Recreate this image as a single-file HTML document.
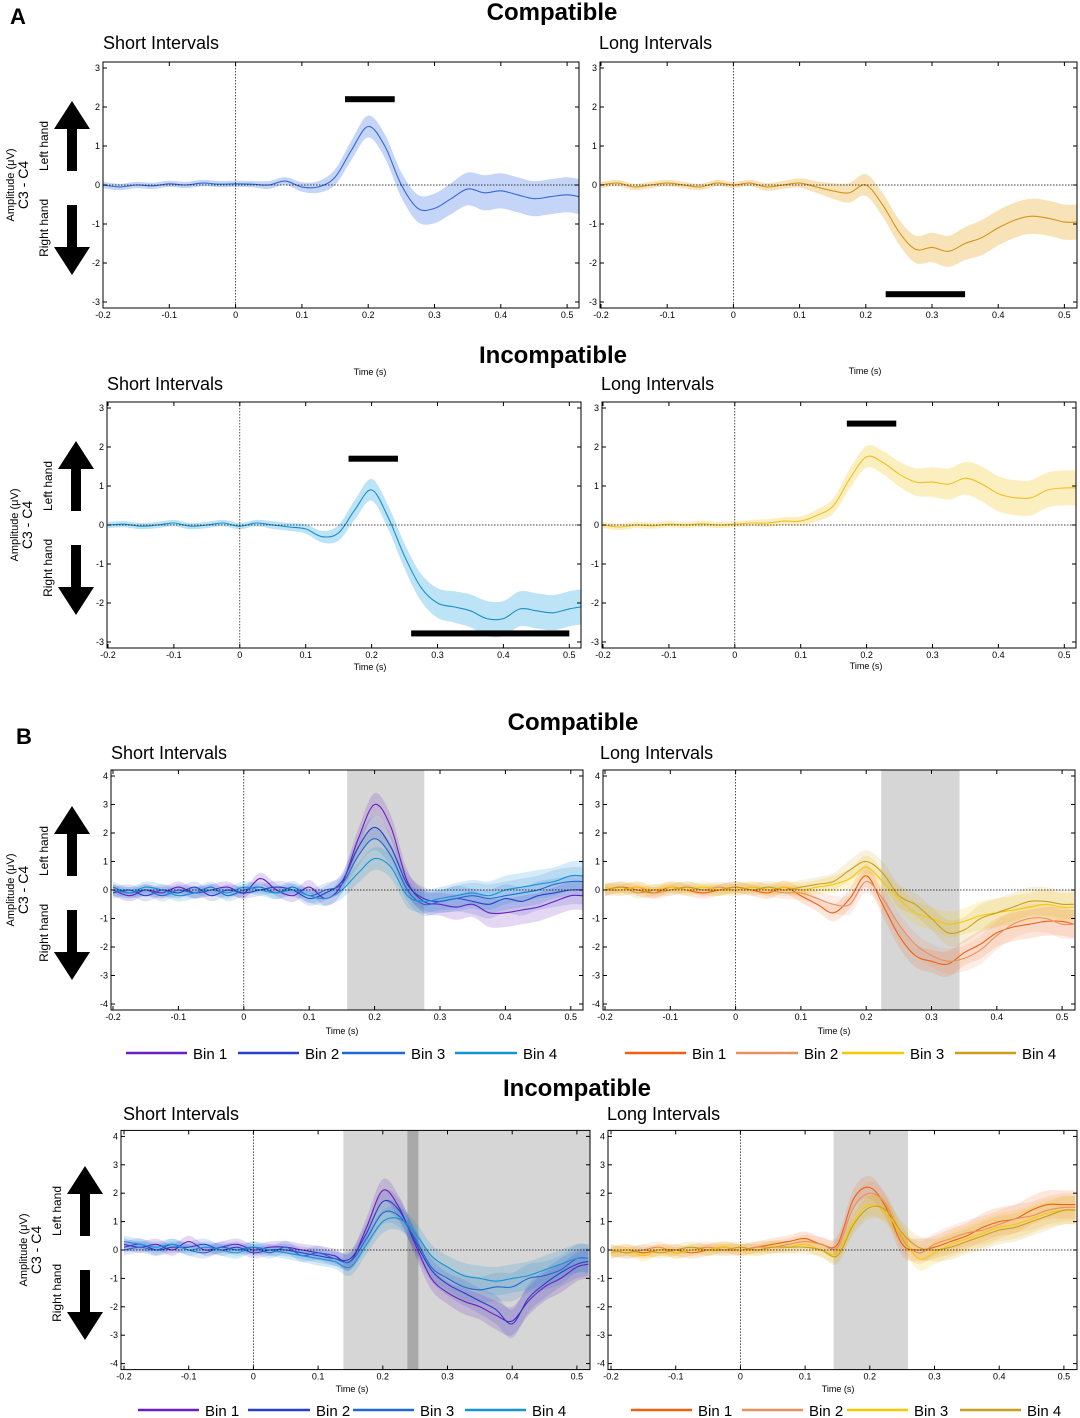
<!DOCTYPE html>
<html><head><meta charset="utf-8"><style>
body{margin:0;background:#fff}
svg{display:block;font-family:"Liberation Sans",sans-serif}
</style></head><body>
<svg id="fig" width="1080" height="1418" viewBox="0 0 1080 1418" xmlns="http://www.w3.org/2000/svg">
<g fill="#000">
<text x="10" y="24" font-size="22" font-weight="bold">A</text>
<text x="552" y="20" font-size="24" font-weight="bold" text-anchor="middle">Compatible</text>
<text x="103" y="49" font-size="18">Short Intervals</text>
<text x="599" y="49" font-size="18">Long Intervals</text>
<text x="553" y="363" font-size="24" font-weight="bold" text-anchor="middle">Incompatible</text>
<text x="107" y="390" font-size="18">Short Intervals</text>
<text x="601" y="390" font-size="18">Long Intervals</text>
<text x="16" y="744" font-size="22" font-weight="bold">B</text>
<text x="573" y="730" font-size="24" font-weight="bold" text-anchor="middle">Compatible</text>
<text x="111" y="759" font-size="18">Short Intervals</text>
<text x="600" y="759" font-size="18">Long Intervals</text>
<text x="577" y="1096" font-size="24" font-weight="bold" text-anchor="middle">Incompatible</text>
<text x="123" y="1120" font-size="18">Short Intervals</text>
<text x="607" y="1120" font-size="18">Long Intervals</text>
</g>
</svg>
<script>
const times=[-0.2,-0.175,-0.15,-0.125,-0.1,-0.075,-0.05,-0.025,0,0.025,0.05,0.075,0.1,0.125,0.15,0.175,0.2,0.225,0.25,0.275,0.3,0.325,0.35,0.375,0.4,0.425,0.45,0.475,0.5,0.518];
const xTicks=[-0.2,-0.1,0,0.1,0.2,0.3,0.4,0.5];
const xTickLabels=["-0.2","-0.1","0","0.1","0.2","0.3","0.4","0.5"];
const yTicksA=[-3,-2,-1,0,1,2,3];
const yTicksB=[-4,-3,-2,-1,0,1,2,3,4];
const binLabels=["Bin 1","Bin 2","Bin 3","Bin 4"];
// Panel A series
const aCompShort=[0,-0.05,0,-0.02,0.03,0,0.05,0.02,0.03,0.02,0,0.1,-0.05,-0.05,0.2,0.9,1.5,1.0,0,-0.6,-0.6,-0.35,-0.1,-0.2,-0.15,-0.25,-0.35,-0.3,-0.25,-0.3];
const aCompLong=[0,0.05,-0.05,0,0.05,0,-0.05,0.05,0,0.05,-0.05,0,0.05,-0.05,-0.15,-0.2,0,-0.5,-1.2,-1.65,-1.6,-1.7,-1.5,-1.35,-1.1,-0.9,-0.8,-0.85,-0.95,-0.95];
const aIncShort=[0,0.02,-0.03,0,0.05,-0.03,0,0.05,-0.03,0.05,0,-0.05,-0.1,-0.3,-0.2,0.4,0.9,0.2,-0.8,-1.6,-2.0,-2.1,-2.2,-2.4,-2.4,-2.15,-2.2,-2.25,-2.15,-2.1];
const aIncLong=[0,-0.05,0,-0.02,0.02,0,0.03,0,0.02,0.05,0.05,0.1,0.1,0.25,0.5,1.2,1.75,1.6,1.3,1.1,1.1,1.05,1.2,1.05,0.8,0.7,0.7,0.9,0.95,0.95];
const aBand=[0.08,0.08,0.08,0.08,0.08,0.08,0.08,0.08,0.08,0.08,0.1,0.1,0.12,0.15,0.2,0.25,0.28,0.3,0.32,0.35,0.38,0.4,0.42,0.45,0.45,0.45,0.45,0.45,0.45,0.45];
// Panel B series
const bCompShort1=[0,-0.2,0,-0.1,0.1,-0.1,0,0.1,-0.1,0.4,0,-0.2,0.1,-0.3,0.2,1.8,3.0,2.2,0.3,-0.4,-0.5,-0.6,-0.5,-0.8,-0.8,-0.7,-0.6,-0.4,-0.2,-0.2];
const bCompShort2=[-0.1,0,-0.2,0,-0.1,0.1,-0.2,0,-0.1,0,0.1,0,-0.3,-0.1,0.3,1.5,2.2,1.5,0.2,-0.3,-0.4,-0.3,-0.4,-0.5,-0.3,-0.4,-0.2,-0.1,0,0];
const bCompShort3=[0.1,-0.1,0,-0.2,0,-0.1,0.1,-0.2,0,0.1,-0.1,0.1,-0.2,0,0.2,1.2,1.8,1.2,0,-0.5,-0.4,-0.3,-0.2,-0.3,-0.2,-0.1,0,0.2,0.3,0.3];
const bCompShort4=[0,-0.1,0.1,0,-0.2,-0.1,0,-0.1,0.1,0,-0.1,0,-0.2,-0.3,0,0.6,1.1,0.8,-0.2,-0.4,-0.3,-0.2,-0.1,-0.2,0,0.1,0.2,0.3,0.5,0.5];
const bCompLong1=[0,0.1,0,-0.1,0.1,0,-0.1,0,0.1,0,-0.1,0.1,-0.2,-0.5,-0.8,-0.3,0.5,-0.5,-1.6,-2.3,-2.5,-2.6,-2.2,-1.9,-1.5,-1.3,-1.2,-1.1,-1.1,-1.2];
const bCompLong2=[0,0,0.1,-0.1,0,0.1,0,0.1,0,0.1,0,-0.1,-0.1,-0.3,-0.5,-0.5,0.3,-0.3,-1.2,-1.9,-2.3,-2.5,-2.4,-2.1,-1.6,-1.2,-1.0,-1.0,-1.2,-1.2];
const bCompLong3=[0.1,0,0.1,0,0.1,0,0.1,0,0,0.1,0,0.1,0,0.1,0.2,0.4,0.8,0.3,-0.3,-0.8,-1.0,-1.2,-1.1,-0.9,-0.8,-0.7,-0.6,-0.5,-0.6,-0.6];
const bCompLong4=[0,0.1,-0.1,0,0,0.1,0,0,0.1,0,0.1,0,0.1,0.2,0.3,0.7,1.0,0.6,-0.2,-0.5,-1.0,-1.5,-1.4,-1.0,-0.8,-0.6,-0.4,-0.4,-0.5,-0.5];
const bIncShort1=[0.2,0.1,0.2,0,0.3,0,0.1,0.2,0,0.1,0.1,0,-0.1,-0.2,-0.4,0.8,2.1,1.5,0.2,-1.0,-1.5,-1.8,-2.0,-2.3,-2.5,-1.8,-1.3,-1.0,-0.6,-0.5];
const bIncShort2=[0.1,0.2,0,0.1,0.1,0.2,0,0.1,-0.1,0,0,-0.1,-0.2,-0.3,-0.3,0.6,1.7,1.4,0.3,-0.7,-1.2,-1.5,-1.8,-2.1,-2.6,-1.7,-1.2,-0.8,-0.5,-0.4];
const bIncShort3=[0,0.1,0,0.2,0,-0.1,0.1,0,0.1,-0.1,0.1,-0.2,-0.1,-0.3,-0.4,0.4,1.3,1.2,0.4,-0.6,-1.0,-1.3,-1.4,-1.3,-1.3,-1.0,-0.9,-0.7,-0.3,-0.3];
const bIncShort4=[0.3,0.2,0.1,0.2,0,0.1,0,-0.1,0.1,0,-0.1,-0.2,-0.3,-0.4,-0.6,0.2,1.0,1.1,0.6,-0.2,-0.6,-0.9,-1.0,-1.1,-1.0,-0.9,-0.7,-0.5,-0.3,-0.3];
const bIncLong1=[-0.1,0,-0.1,0,0,-0.1,0,0.1,0,0.1,0.2,0.3,0.4,0.2,0.2,1.8,2.2,1.5,0.2,0,0.1,0.3,0.5,0.8,1.0,1.1,1.4,1.6,1.6,1.6];
const bIncLong2=[0,-0.1,0,0.1,-0.1,0,0.1,0,0,0.1,0.1,0.2,0.3,0.2,0.1,1.5,2.0,1.6,0.4,-0.1,0.2,0.4,0.6,0.7,0.9,1.1,1.2,1.4,1.5,1.5];
const bIncLong3=[-0.1,0,-0.2,0,-0.1,0,0,0.1,0,0,0.1,0.1,0.2,0,-0.1,1.0,1.6,1.3,0.5,-0.3,-0.1,0.2,0.4,0.6,0.8,0.9,1.1,1.3,1.4,1.4];
const bIncLong4=[0,-0.1,0,-0.1,0,0.1,0,0,0.1,0,0.1,0.1,0.1,0,-0.2,0.9,1.5,1.4,0.6,0.1,0,0.1,0.3,0.5,0.7,0.8,1.0,1.2,1.4,1.4];
const bBand=[0.2,0.2,0.2,0.2,0.2,0.2,0.2,0.2,0.2,0.2,0.22,0.22,0.25,0.25,0.3,0.35,0.4,0.4,0.4,0.4,0.4,0.45,0.45,0.5,0.5,0.5,0.5,0.5,0.5,0.5];
// significance bars [tStart,tEnd,value]
const sigCompShort=[[0.165,0.24,2.2]];
const sigCompLong=[[0.23,0.35,-2.8]];
const sigIncShort=[[0.165,0.24,1.7],[0.26,0.5,-2.78]];
const sigIncLong=[[0.17,0.245,2.6]];
// shaded windows [tStart,tEnd]
const shadeCompShort=[[0.158,0.276]];
const shadeCompLong=[[0.223,0.343]];
const shadeIncShort=[[0.139,0.52]];
const shadeIncShortDark=[[0.238,0.255]];
const shadeIncLong=[[0.144,0.259]];

const NS="http://www.w3.org/2000/svg";
const svg=document.getElementById('fig');
function mk(tag,attrs,parent){const e=document.createElementNS(NS,tag);for(const k in attrs)e.setAttribute(k,attrs[k]);(parent||svg).appendChild(e);return e;}
function smooth(pts){let d="M"+pts[0][0].toFixed(1)+","+pts[0][1].toFixed(1);for(let i=0;i<pts.length-1;i++){const p0=pts[i-1]||pts[i],p1=pts[i],p2=pts[i+1],p3=pts[i+2]||p2;const c1=[p1[0]+(p2[0]-p0[0])/6,p1[1]+(p2[1]-p0[1])/6],c2=[p2[0]-(p3[0]-p1[0])/6,p2[1]-(p3[1]-p1[1])/6];d+="C"+c1[0].toFixed(1)+","+c1[1].toFixed(1)+" "+c2[0].toFixed(1)+","+c2[1].toFixed(1)+" "+p2[0].toFixed(1)+","+p2[1].toFixed(1);}return d;}
function lineD(pts){return smooth(pts);}

function panel(cfg){
  const g=mk('g',{});
  
  
  const X=t=>Math.min(cfg.x0+(t+0.2)*cfg.sx,cfg.right), Y=v=>cfg.y0-v*cfg.sy;
  const top=Y(cfg.ymax)-6, bot=Y(-cfg.ymax)+6;
  (cfg.shades||[]).forEach(s=>{const r=mk('rect',{x:X(s[0]),y:top,width:X(s[1])-X(s[0]),height:bot-top,fill:s[2]||'#d6d6d6'},g);});
  cfg.series.forEach((s,si)=>{
    const up=times.map((t,i)=>[X(t),Y(s.v[i]+cfg.band[i])]);
    const dn=times.map((t,i)=>[X(t),Y(s.v[i]-cfg.band[i])]).reverse();
    const band=mk('path',{d:lineD(up)+lineD(dn).replace('M','L')+'Z',fill:s.fill,'fill-opacity':s.op||0.4,stroke:'none'},g);
    
    
  });
  cfg.series.forEach((s,si)=>{
    const l=mk('path',{d:lineD(times.map((t,i)=>[X(t),Y(s.v[i])])),fill:'none',stroke:s.color,'stroke-width':1.1},g);
    
    
  });
  mk('line',{x1:cfg.left,x2:cfg.right,y1:Y(0),y2:Y(0),stroke:'#000','stroke-width':0.7,'stroke-dasharray':'1.5,1.5'},g);
  mk('line',{x1:X(0),x2:X(0),y1:top,y2:bot,stroke:'#000','stroke-width':0.7,'stroke-dasharray':'1.5,1.5'},g);
  (cfg.sig||[]).forEach(b=>{const r=mk('rect',{x:X(b[0]),y:Y(b[2])-3,width:X(b[1])-X(b[0]),height:6,fill:'#000'},g);});
  const box=mk('rect',{x:cfg.left,y:top,width:cfg.right-cfg.left,height:bot-top,fill:'none',stroke:'#000','stroke-width':1},g);
  
  
  xTicks.forEach((t,i)=>{const x=X(t);mk('line',{x1:x,x2:x,y1:bot,y2:bot-4,stroke:'#000'},g);mk('line',{x1:x,x2:x,y1:top,y2:top+4,stroke:'#000'},g);
    const tx=mk('text',{x:x,y:bot+10,'font-size':9,'text-anchor':'middle'},g);tx.textContent=xTickLabels[i];
    
    });
  cfg.yticks.forEach(v=>{const y=Y(v);mk('line',{x1:cfg.left,x2:cfg.left+4,y1:y,y2:y,stroke:'#000'},g);mk('line',{x1:cfg.right,x2:cfg.right-4,y1:y,y2:y,stroke:'#000'},g);
    const tx=mk('text',{x:cfg.left-3,y:y+3,'font-size':9,'text-anchor':'end'},g);tx.textContent=String(v);
    
    });
  const xl=mk('text',{x:cfg.tx,y:cfg.ty,'font-size':9,'text-anchor':'middle'},g);xl.textContent='Time (s)';
  
  
  if(cfg.legend){cfg.legend.forEach((L,i)=>{mk('line',{x1:L[0],x2:L[1],y1:cfg.ly,y2:cfg.ly,stroke:cfg.series[i].color,'stroke-width':2.5},g);
    const t=mk('text',{x:L[1]+6,y:cfg.ly+6,'font-size':15},g);t.textContent=binLabels[i];
    
    });}
}
function yLabels(cx,cy,len){
  const g=mk('g',{});
  
  
  const t1=mk('text',{transform:`translate(${cx-58},${cy}) rotate(-90)`,'font-size':11,'text-anchor':'middle'},g);t1.textContent='Amplitude (μV)';
  const t2=mk('text',{transform:`translate(${cx-44},${cy}) rotate(-90)`,'font-size':14,'text-anchor':'middle'},g);t2.textContent='C3 - C4';
  const t3=mk('text',{transform:`translate(${cx-24},${cy-len*0.5}) rotate(-90)`,'font-size':12,'text-anchor':'middle'},g);t3.textContent='Left hand';
  const t4=mk('text',{transform:`translate(${cx-24},${cy+len*0.55}) rotate(-90)`,'font-size':12,'text-anchor':'middle'},g);t4.textContent='Right hand';
  const a1=mk('path',{d:`M${cx} ${cy-84} L${cx+18} ${cy-56} L${cx+5} ${cy-56} L${cx+5} ${cy-14} L${cx-5} ${cy-14} L${cx-5} ${cy-56} L${cx-18} ${cy-56}Z`,fill:'#000'},g);
  
  const a2=mk('path',{d:`M${cx} ${cy+90} L${cx+18} ${cy+62} L${cx+5} ${cy+62} L${cx+5} ${cy+20} L${cx-5} ${cy+20} L${cx-5} ${cy+62} L${cx-18} ${cy+62}Z`,fill:'#000'},g);
  
}
const sh={p:'#6a1fc0',b2:'#2840c8',b3:'#1f6ad0',b4:'#1595d6'};
const lo={b1:'#f06010',b2:'#e89060',b3:'#f8c800',b4:'#c8a020'};
panel({name:'a-compatible-short',x0:103,sx:663,y0:185,sy:39,ymax:3,left:103,right:579,yticks:yTicksA,band:aBand,series:[{v:aCompShort,color:'#3468d6',fill:'#6d97ea'}],sig:sigCompShort,tx:370,ty:375});
panel({name:'a-compatible-long',x0:601,sx:662,y0:185,sy:39,ymax:3,left:600,right:1077,yticks:yTicksA,band:aBand,series:[{v:aCompLong,color:'#d4961a',fill:'#eeb64a'}],sig:sigCompLong,tx:865,ty:374});
panel({name:'a-incompatible-short',x0:108,sx:659,y0:525,sy:39,ymax:3,left:107,right:581,yticks:yTicksA,band:aBand,series:[{v:aIncShort,color:'#1a8fcc',fill:'#5ab8ea'}],sig:sigIncShort,tx:370,ty:670});
panel({name:'a-incompatible-long',x0:603,sx:659,y0:525,sy:39,ymax:3,left:602,right:1076,yticks:yTicksA,band:aBand,series:[{v:aIncLong,color:'#f0bf20',fill:'#f8d660'}],sig:sigIncLong,tx:866,ty:669});
panel({name:'b-compatible-short',x0:113,sx:654,y0:890,sy:28.5,ymax:4,left:111,right:583,yticks:yTicksB,band:bBand,shades:shadeCompShort,series:[{v:bCompShort1,color:sh.p,fill:sh.p,op:0.18},{v:bCompShort2,color:sh.b2,fill:sh.b2,op:0.15},{v:bCompShort3,color:sh.b3,fill:sh.b3,op:0.15},{v:bCompShort4,color:sh.b4,fill:sh.b4,op:0.18}],tx:342,ty:1034,ly:1053,legend:[[126,187],[238,299],[342,405],[455,517]]});
panel({name:'b-compatible-long',x0:605,sx:653,y0:890,sy:28.5,ymax:4,left:603,right:1075,yticks:yTicksB,band:bBand,shades:shadeCompLong,series:[{v:bCompLong1,color:lo.b1,fill:lo.b1,op:0.15},{v:bCompLong2,color:lo.b2,fill:lo.b2,op:0.15},{v:bCompLong3,color:lo.b3,fill:lo.b3,op:0.18},{v:bCompLong4,color:lo.b4,fill:lo.b4,op:0.15}],tx:834,ty:1034,ly:1053,legend:[[625,686],[736,798],[842,904],[955,1016]]});
panel({name:'b-incompatible-short',x0:124,sx:647,y0:1250,sy:28.4,ymax:4,left:121,right:590,yticks:yTicksB,band:bBand,shades:shadeIncShort.concat(shadeIncShortDark.map(s=>[s[0],s[1],'#a9a9a9'])),series:[{v:bIncShort1,color:sh.p,fill:sh.p,op:0.18},{v:bIncShort2,color:sh.b2,fill:sh.b2,op:0.15},{v:bIncShort3,color:sh.b3,fill:sh.b3,op:0.15},{v:bIncShort4,color:sh.b4,fill:sh.b4,op:0.18}],tx:352,ty:1392,ly:1410,legend:[[138,199],[248,310],[353,414],[465,526]]});
panel({name:'b-incompatible-long',x0:611,sx:647,y0:1250,sy:28.4,ymax:4,left:608,right:1077,yticks:yTicksB,band:bBand,shades:shadeIncLong,series:[{v:bIncLong1,color:lo.b1,fill:lo.b1,op:0.15},{v:bIncLong2,color:lo.b2,fill:lo.b2,op:0.15},{v:bIncLong3,color:lo.b3,fill:lo.b3,op:0.18},{v:bIncLong4,color:lo.b4,fill:lo.b4,op:0.15}],tx:838,ty:1392,ly:1410,legend:[[631,692],[742,803],[847,908],[960,1021]]});
yLabels(72,185,78);
yLabels(76,525,78);
yLabels(72,890,78);
yLabels(85,1250,78);
</script>
</body></html>
